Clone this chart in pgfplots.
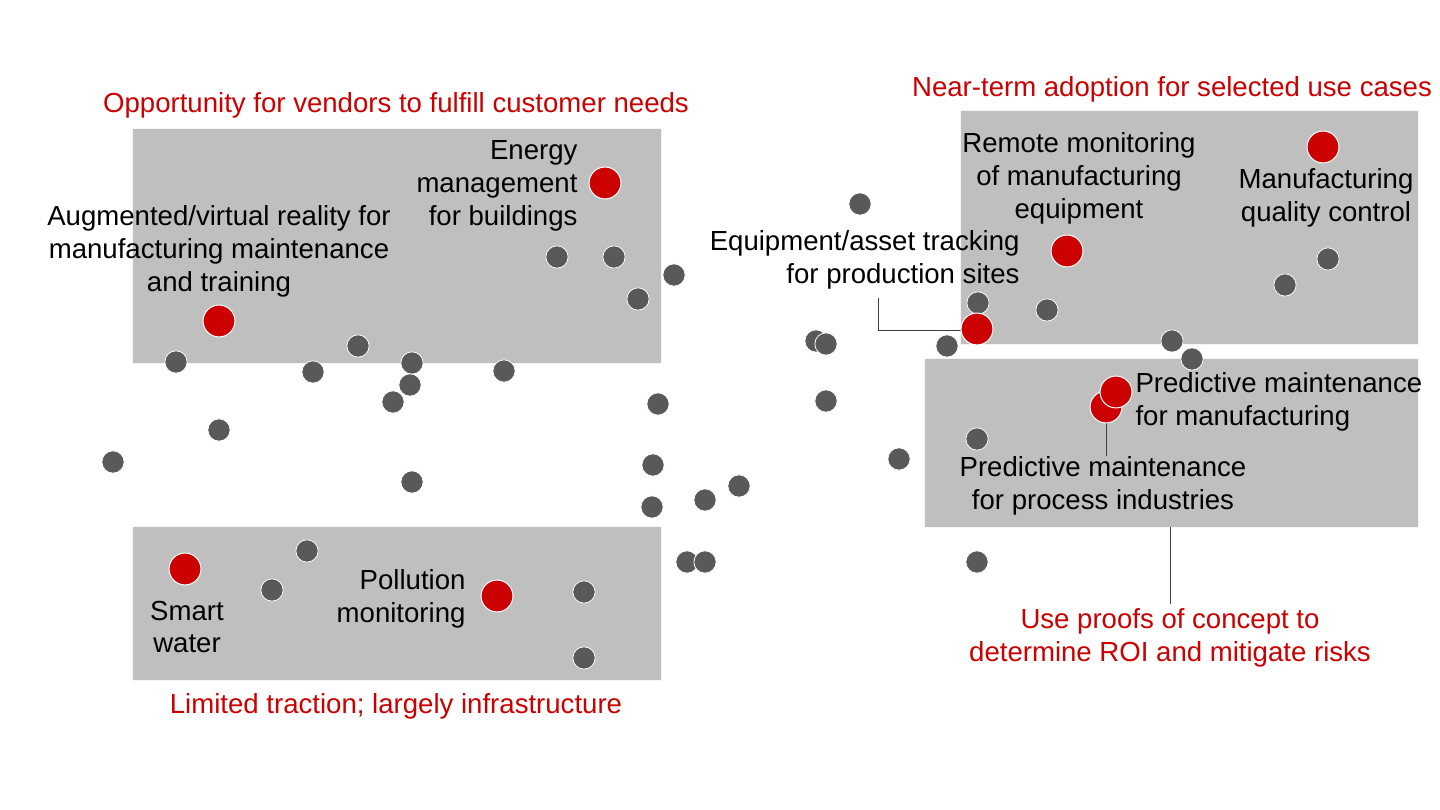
\documentclass[border=0pt]{standalone}
\usepackage{fontspec}
\setmainfont{Liberation Sans}
\usepackage{pgfplots}
\pgfplotsset{compat=1.18}

\definecolor{boxgray}{HTML}{BFBFBF}
\definecolor{dotgray}{HTML}{595959}
\definecolor{hotred}{HTML}{CC0000}

\begin{document}
\begin{tikzpicture}[
  lbl/.style={inner sep=0pt, font=\fontsize{10.9}{13}\selectfont, text=black},
  hdr/.style={inner sep=0pt, font=\fontsize{10.9}{13}\selectfont, text=hotred, align=center},
]
\begin{axis}[
  width=20cm, height=11.25cm, scale only axis,
  xmin=0, xmax=1440, ymin=0, ymax=810,
  y dir=reverse,
  hide axis, clip=false,
]
\path (rel axis cs:0,0) rectangle (rel axis cs:1,1);

% shaded quadrants
\addplot[fill=boxgray, draw=white!85!boxgray, line width=0.3pt]
  coordinates {(132,128) (661,128) (661,363) (132,363)} -- cycle;
\addplot[fill=boxgray, draw=white!85!boxgray, line width=0.3pt]
  coordinates {(132,526) (661,526) (661,680) (132,680)} -- cycle;
\addplot[fill=boxgray, draw=white!85!boxgray, line width=0.3pt]
  coordinates {(960,110) (1418,110) (1418,344) (960,344)} -- cycle;
\addplot[fill=boxgray, draw=white!85!boxgray, line width=0.3pt]
  coordinates {(924,358) (1418,358) (1418,527) (924,527)} -- cycle;

% leader lines
\addplot[black!75, line width=0.4pt] coordinates {(878,298) (878,331) (966,331)};
\addplot[black!75, line width=0.4pt] coordinates {(1106,420) (1106,456)};
\addplot[black!75, line width=0.4pt] coordinates {(1170,527) (1170,604)};

% other use cases
\addplot[only marks, mark=*, mark size=4.4pt,
  mark options={fill=dotgray, draw=white, line width=0.3pt}]
  coordinates {
  (860,204) (557,257) (614,257) (674,275) (638,299) (978,303) (1047,310)
  (1285,285) (1328,259) (176,362) (358,346) (412,363) (313,372) (410,385)
  (393,402) (504,371) (816,341) (826,344) (947,346) (1172,341) (1192,359)
  (658,404) (826,401) (219,430) (113,462) (412,482) (653,465) (899,459)
  (977,439) (739,486) (705,500) (652,507) (687,562) (705,562) (977,562)
  (307,551) (272,590) (584,592) (584,658)
  };

% highlighted use cases
\addplot[only marks, mark=*, mark size=6.3pt,
  mark options={fill=hotred, draw=white, line width=0.4pt}]
  coordinates {
  (605,183) (219,321) (185,569) (497,596) (1067,251) (1323,147)
  (977,329) (1106,407) (1116,392)
  };

% headers
\node[hdr] at (axis cs:396,105) {Opportunity for vendors to fulfill customer needs};
\node[hdr] at (axis cs:396,706) {Limited traction; largely infrastructure};
\node[hdr] at (axis cs:1172,89) {Near-term adoption for selected use cases};
\node[hdr] at (axis cs:1170,638) {Use proofs of concept to\\determine ROI and mitigate risks};

% labels
\node[lbl, align=right, anchor=east] at (axis cs:578,186) {Energy\\management\\for buildings};
\node[lbl, align=center] at (axis cs:219,251) {Augmented/virtual reality for\\manufacturing maintenance\\and training};
\node[lbl, align=center] at (axis cs:1079,178) {Remote monitoring\\of manufacturing\\equipment};
\node[lbl, align=center] at (axis cs:1326,198) {Manufacturing\\quality control};
\node[lbl, align=right, anchor=east] at (axis cs:1020,260) {Equipment/asset tracking\\for production sites};
\node[lbl, align=left, anchor=west] at (axis cs:1135,402) {Predictive maintenance\\for manufacturing};
\node[lbl, align=center] at (axis cs:1103,486) {Predictive maintenance\\for process industries};
\node[lbl, align=center] at (axis cs:187,627) {Smart\\water};
\node[lbl, align=right, anchor=east] at (axis cs:466,599) {Pollution\\monitoring};
\end{axis}
\end{tikzpicture}
\end{document}
